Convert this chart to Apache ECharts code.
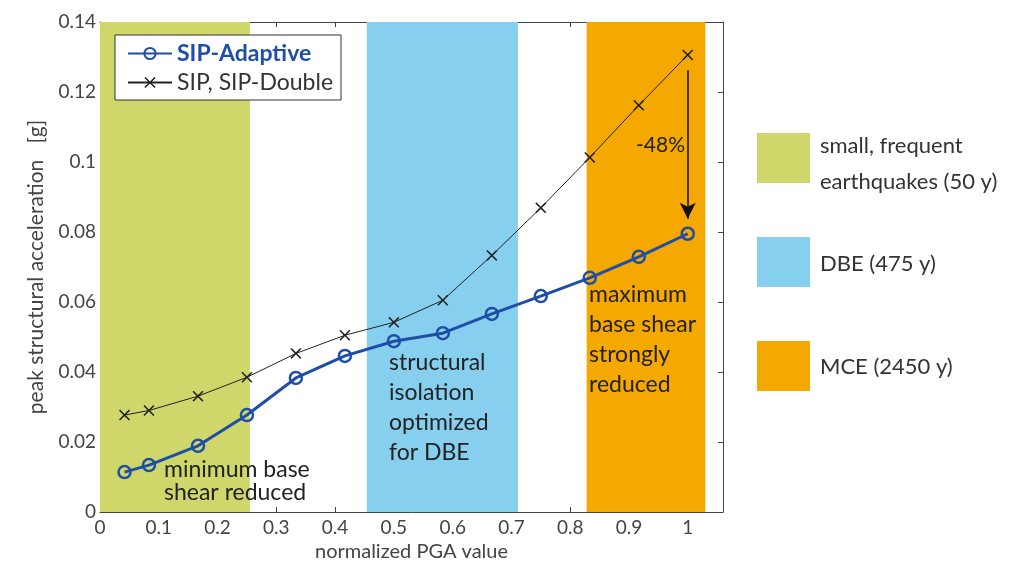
<!DOCTYPE html>
<html>
<head>
<meta charset="utf-8">
<title>peak structural acceleration</title>
<script src="https://cdn.jsdelivr.net/npm/echarts@6/dist/echarts.min.js"></script>
<style>
  html, body { margin: 0; padding: 0; background: #fff; }
  #chart { width: 1014px; height: 570px; }
</style>
</head>
<body>
<div id="chart"></div>
<script>
// normalized PGA values (x)
const pga = [0.0417, 0.0833, 0.1667, 0.25, 0.3333, 0.4167, 0.5, 0.5833, 0.6667, 0.75, 0.8333, 0.9167, 1.0]
// peak structural acceleration [g]
const sipAdaptive = [0.0114, 0.0134, 0.0189, 0.0277, 0.0383, 0.0446, 0.0488, 0.0511, 0.0566, 0.0617, 0.0669, 0.0729, 0.0795]
const sipDouble = [0.0277, 0.0290, 0.0331, 0.0385, 0.0453, 0.0505, 0.0542, 0.0605, 0.0733, 0.0869, 0.1013, 0.1162, 0.1306]
// shaded hazard bands [from, to] on the x axis
const bandNames = ['small, frequent\nearthquakes (50 y)', 'DBE (475 y)', 'MCE (2450 y)']
const bandRanges = [[0, 0.255], [0.454, 0.711], [0.828, 1.03]]
const bandColors = ['#cfd76a', '#86cfee', '#f4a800']
// -48% arrow
const arrowFrom = [1, 0.1262]
const arrowTo = [1, 0.0838]

const chart = echarts.init(document.getElementById('chart'))
const font = 'Lato, "Open Sans", sans-serif'
const axisCol = '#444'
const xCross = 'path://M0,1L1,0L5,4L9,0L10,1L6,5L10,9L9,10L5,6L1,10L0,9L4,5Z'

const baseAxis = {
  type: 'value',
  splitLine: { show: false },
  axisLine: { show: true, onZero: false, lineStyle: { color: axisCol, width: 1 } },
  axisTick: { show: true, inside: true, length: 5, lineStyle: { color: axisCol } },
}

chart.setOption({
  animation: false,
  textStyle: { fontFamily: font },
  grid: { left: 100, right: 291, top: 22, bottom: 58 },
  legend: {
    orient: 'vertical',
    left: 115, top: 35,
    padding: [7, 8, 6, 12],
    itemGap: 6,
    itemWidth: 44, itemHeight: 14,
    borderColor: '#333', borderWidth: 1,
    backgroundColor: '#fff',
    textStyle: { fontSize: 23, color: '#333', fontFamily: font },
    data: [
      { name: 'SIP-Adaptive', textStyle: { color: '#1f4ea6', fontWeight: 'bold' } },
      { name: 'SIP, SIP-Double' }
    ]
  },
  xAxis: [
    {
      ...baseAxis,
      min: 0, max: 1.06, interval: 0.1,
      name: 'normalized PGA value',
      nameLocation: 'middle', nameGap: 28,
      nameTextStyle: { fontSize: 20, color: axisCol },
      axisLabel: { fontSize: 19, color: axisCol, margin: 6, showMaxLabel: false }
    },
    {
      ...baseAxis,
      position: 'top',
      min: 0, max: 1.06, interval: 0.1,
      axisLabel: { show: false }
    }
  ],
  yAxis: [
    {
      ...baseAxis,
      min: 0, max: 0.14, interval: 0.02,
      name: 'peak structural acceleration   [g]',
      nameLocation: 'middle', nameGap: 53,
      nameTextStyle: { fontSize: 21, color: axisCol },
      axisLabel: { fontSize: 19, color: axisCol, margin: 4 }
    },
    {
      ...baseAxis,
      position: 'right',
      min: 0, max: 0.14, interval: 0.02,
      axisLabel: { show: false }
    }
  ],
  series: [
    {
      name: 'bands',
      type: 'line',
      data: [],
      z: 1,
      silent: true,
      markArea: {
        silent: true,
        data: bandRanges.map((r, i) => [
          { xAxis: r[0], itemStyle: { color: bandColors[i], opacity: 1 } },
          { xAxis: r[1] }
        ])
      }
    },
    {
      name: 'SIP, SIP-Double',
      type: 'line',
      z: 3,
      data: pga.map((x, i) => [x, sipDouble[i]]),
      symbol: xCross,
      symbolSize: 11,
      lineStyle: { color: '#222', width: 1 },
      itemStyle: { color: '#222' },
      markLine: {
        silent: true,
        symbol: ['none', 'arrow'],
        symbolSize: [12, 16],
        label: { show: false },
        lineStyle: { color: '#111', width: 1.5, type: 'solid' },
        data: [[{ coord: arrowFrom }, { coord: arrowTo }]]
      }
    },
    {
      name: 'SIP-Adaptive',
      type: 'line',
      z: 4,
      data: pga.map((x, i) => [x, sipAdaptive[i]]),
      symbol: 'circle',
      symbolSize: 12,
      lineStyle: { color: '#1f4ea6', width: 3 },
      itemStyle: { color: 'rgba(0,0,0,0)', borderColor: '#1f4ea6', borderWidth: 2.5 }
    }
  ],
  graphic: [
    // annotations
    { type: 'text', left: 164, top: 458, z: 10, style: { text: 'minimum base\nshear reduced', font: '23px ' + font, fill: '#222', lineHeight: 23 } },
    { type: 'text', left: 389, top: 348, z: 10, style: { text: 'structural\nisolation\noptimized\nfor DBE', font: '23px ' + font, fill: '#222', lineHeight: 30 } },
    { type: 'text', left: 589, top: 280, z: 10, style: { text: 'maximum\nbase shear\nstrongly\nreduced', font: '23px ' + font, fill: '#222', lineHeight: 30 } },
    { type: 'text', left: 636, top: 135, z: 10, style: { text: '-48%', font: '21px ' + font, fill: '#222' } },
    // band key on the right
    ...bandColors.map((c, i) => ({
      type: 'rect', left: 757, top: [133, 237, 341][i], z: 10,
      shape: { width: 53, height: 50 }, style: { fill: c }
    })),
    ...bandNames.map((t, i) => ({
      type: 'text', left: 820, top: [128, 246, 349][i], z: 10,
      style: { text: t, font: '22px ' + font, fill: '#333', lineHeight: 36 }
    }))
  ]
})
</script>
</body>
</html>
